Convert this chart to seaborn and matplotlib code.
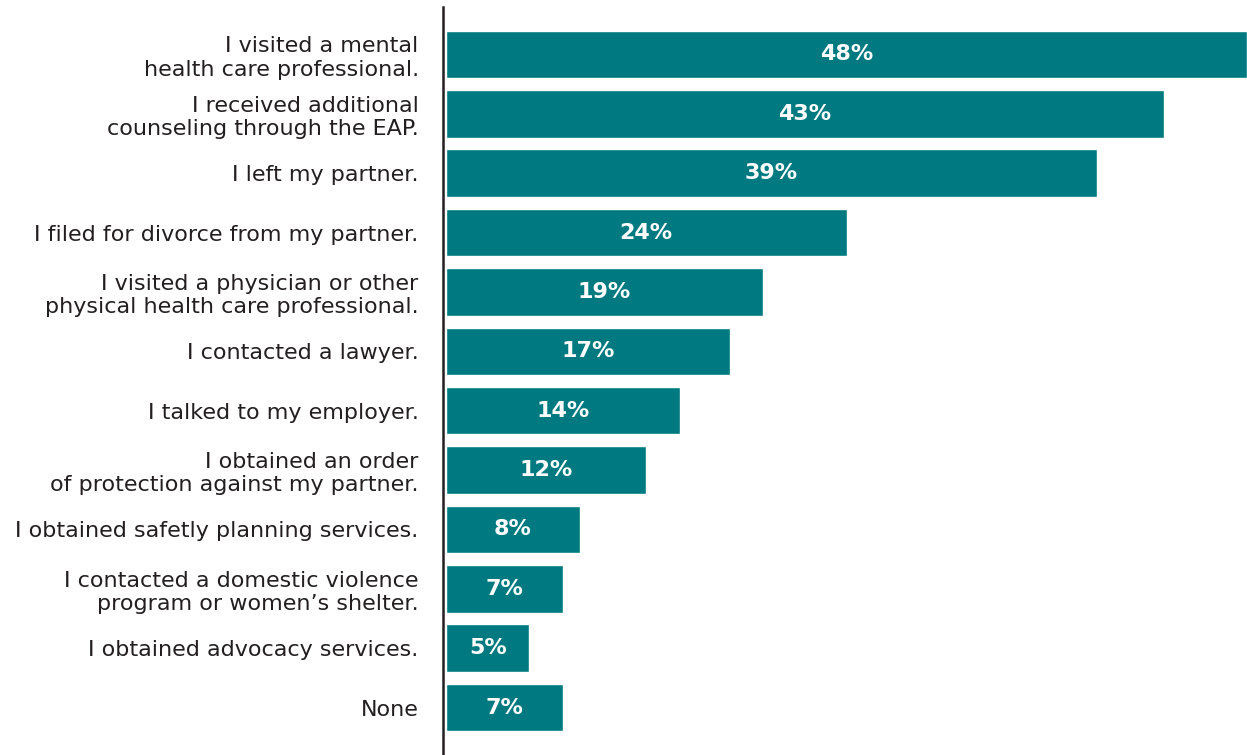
import numpy as np
import pandas as pd
import matplotlib
matplotlib.use("Agg")
import matplotlib.pyplot as plt
import seaborn as sns

actions = [
    "I visited a mental\nhealth care professional.",
    "I received additional\ncounseling through the EAP.",
    "I left my partner.",
    "I filed for divorce from my partner.",
    "I visited a physician or other\nphysical health care professional.",
    "I contacted a lawyer.",
    "I talked to my employer.",
    "I obtained an order\nof protection against my partner.",
    "I obtained safetly planning services.",
    "I contacted a domestic violence\nprogram or women\u2019s shelter.",
    "I obtained advocacy services.",
    "None",
]
percents = [48, 43, 39, 24, 19, 17, 14, 12, 8, 7, 5, 7]

df = pd.DataFrame({"action": actions, "pct": percents})

sns.set_theme(style="white")
plt.rcParams["font.family"] = ["DejaVu Sans"]

teal = "#007A80"
text_color = "#231F20"

fig = plt.figure(figsize=(12.47, 7.55), dpi=100)
ax = fig.add_axes([446 / 1247, 0.0, (1247 - 446) / 1247, (755 - 7) / 755])

sns.barplot(data=df, x="pct", y="action", color=teal, saturation=1,
            width=0.8, orient="h", ax=ax)

ax.set_xlim(0, 48)
ax.set_ylim(11.8, -0.8)

for i, v in enumerate(df["pct"]):
    ax.text(v / 2, i, f"{v}%", ha="center", va="center", color="white",
            fontsize=16, fontweight="bold")

ax.set_xlabel("")
ax.set_ylabel("")
ax.set_xticks([])
ax.tick_params(axis="y", length=0, pad=17.5, labelsize=16, labelcolor=text_color)
for lbl in ax.get_yticklabels():
    lbl.set_linespacing(0.93)
    lbl.set_multialignment("right")

for side in ["top", "right", "bottom"]:
    ax.spines[side].set_visible(False)
ax.spines["left"].set_color(text_color)
ax.spines["left"].set_linewidth(1.8)
ax.spines["left"].set_position(("data", -0.18))

fig.savefig("out.png", dpi=100)
